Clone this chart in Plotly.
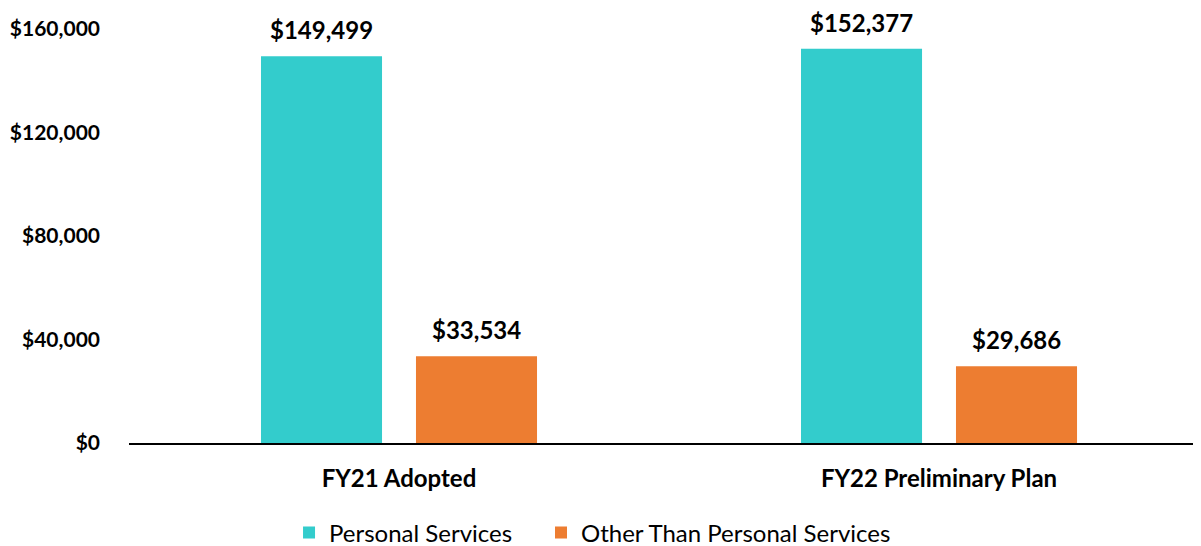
import plotly.graph_objects as go

categories = ["FY21 Adopted", "FY22 Preliminary Plan"]
personal_services = [149499, 152377]
other_than_ps = [33534, 29686]
series_names = ["Personal Services", "Other Than Personal Services"]
colors = ["#33CCCC", "#ED7D31"]
y_ticks = [0, 40000, 80000, 120000, 160000]
y_tick_labels = ["$0", "$40,000", "$80,000", "$120,000", "$160,000"]

FONT = "Lato"

fig = go.Figure()
for name, vals, col, lg in zip(series_names, [personal_services, other_than_ps], colors,
                               ["legend", "legend2"]):
    fig.add_trace(go.Bar(x=categories, y=vals, name=name, marker_color=col,
                         marker_line_width=0, legend=lg))

shift = 77.5
for vals, xs in [(personal_services, -shift), (other_than_ps, shift)]:
    for c, v in zip(categories, vals):
        fig.add_annotation(x=c, y=v, text=f"<b>${v:,}</b>", showarrow=False,
                           xshift=xs, yshift=11, yanchor="bottom", borderpad=0,
                           font=dict(family=FONT, size=24, color="#000000"))

legend_common = dict(orientation="h", xref="container", xanchor="left",
                     yref="container", y=0.0385, yanchor="middle",
                     font=dict(family=FONT, size=24, color="#000000"),
                     itemwidth=30, bgcolor="rgba(0,0,0,0)")

fig.update_layout(
    width=1201, height=546,
    margin=dict(l=121, r=9, t=21, b=111, autoexpand=False),
    plot_bgcolor="white", paper_bgcolor="white",
    barmode="group", bargap=0.426, bargroupgap=0.219,
    showlegend=True,
    legend=dict(x=0.234, **legend_common),
    legend2=dict(x=0.4438, **legend_common),
    font=dict(family=FONT),
)
fig.update_xaxes(range=[-0.5, 1.4833], showline=True, linecolor="#000000", linewidth=2,
                 tickfont=dict(family=FONT, size=24, color="#000000", weight="bold"),
                 ticks="", ticklabelstandoff=13, showgrid=False, zeroline=False,
                 automargin=False)
fig.update_yaxes(range=[0, 160000], tickvals=y_ticks, ticktext=y_tick_labels,
                 tickfont=dict(family=FONT, size=21, color="#000000", weight="bold"),
                 showgrid=False, zeroline=False, showline=False, ticks="",
                 ticklabelstandoff=28, automargin=False)

fig.write_html("out.html")
